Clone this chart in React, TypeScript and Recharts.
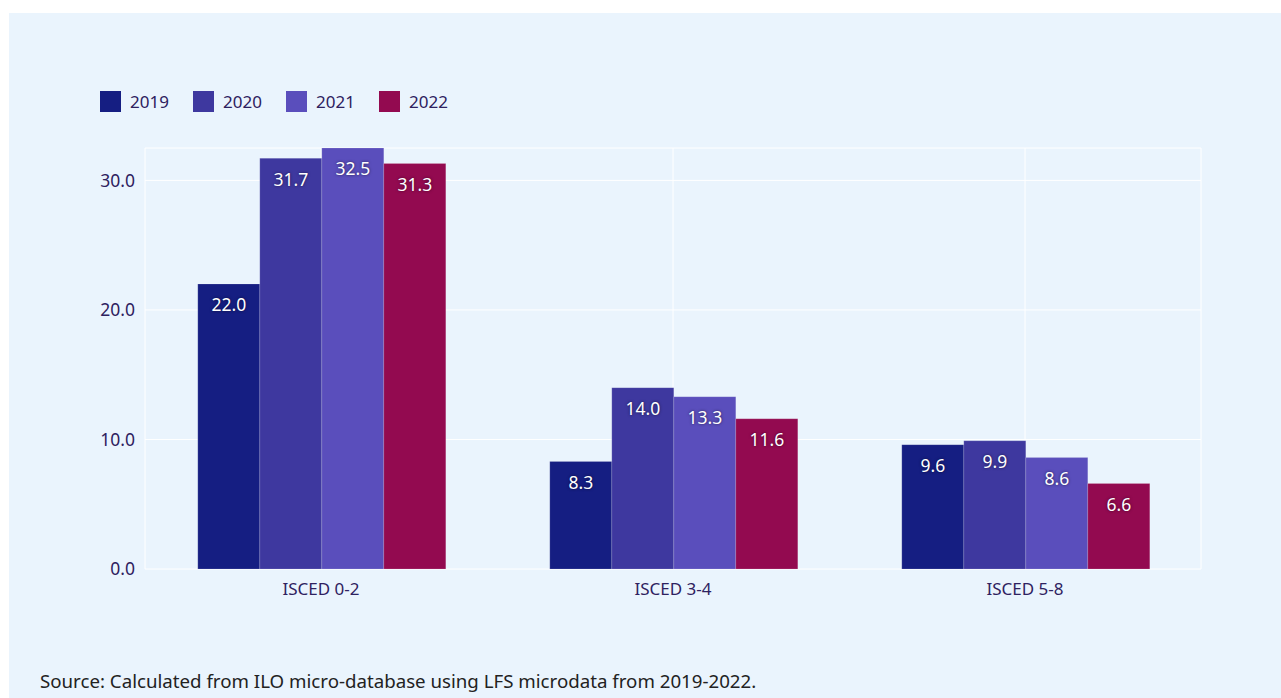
import React from "react";
import {
  BarChart, Bar, XAxis, YAxis, CartesianGrid, LabelList,
} from "recharts";

const categories = ["ISCED 0-2", "ISCED 3-4", "ISCED 5-8"];
const years = ["2019", "2020", "2021", "2022"];
const v2019 = [22.0, 8.3, 9.6];
const v2020 = [31.7, 14.0, 9.9];
const v2021 = [32.5, 13.3, 8.6];
const v2022 = [31.3, 11.6, 6.6];
const yTicks = [0, 10, 20, 30];

const colors = ["#151E82", "#3E389F", "#5A4EBC", "#930A50"];
const FONT = "'Noto Sans', 'Open Sans', sans-serif";
const TEXT = "#2E2160";

const series = [v2019, v2020, v2021, v2022];
const data = categories.map((c, i) => {
  const row: Record<string, string | number> = { name: c };
  years.forEach((y, k) => (row[y] = series[k][i]));
  return row;
});

const LegendBox = () => (
  <div
    style={{
      position: "absolute", left: 91, top: 77, display: "flex",
      fontFamily: FONT, fontSize: 17, color: TEXT,
    }}
  >
    {years.map((y, i) => (
      <div key={y} style={{ display: "flex", alignItems: "center", width: 93 }}>
        <span style={{ width: 21, height: 21, background: colors[i], display: "inline-block", marginRight: 9 }} />
        <span>{y}</span>
      </div>
    ))}
  </div>
);

const fmt = (v: unknown) => Number(v).toFixed(1);

export default function App() {
  return (
    <div
      style={{
        position: "absolute", left: 9, top: 13, width: 1272, height: 685,
        background: "#EAF4FD", fontFamily: FONT,
      }}
    >
      <LegendBox />
      <BarChart
        width={1272}
        height={600}
        data={data}
        margin={{ top: 135, right: 80, left: 77, bottom: 14 }}
        barCategoryGap="15%"
        barGap={0}
      >
        <CartesianGrid stroke="#FFFFFF" strokeWidth={1} />
        <XAxis
          dataKey="name"
          axisLine={false}
          tickLine={false}
          tickSize={0}
          tickMargin={14}
          height={30}
          tick={{ fontSize: 17, fill: TEXT, fontFamily: FONT }}
        />
        <YAxis
          domain={[0, 32.5]}
          ticks={yTicks}
          width={59}
          axisLine={false}
          tickLine={false}
          tickSize={0}
          tickMargin={10}
          tickFormatter={(v) => Number(v).toFixed(1)}
          tick={{ fontSize: 17.5, fill: TEXT, fontFamily: FONT }}
        />
        {years.map((y, i) => (
          <Bar
            key={y}
            dataKey={y}
            fill={colors[i]}
            stroke="rgba(255,255,255,0.25)"
            strokeWidth={0.6}
            isAnimationActive={false}
          >
            <LabelList
              dataKey={y}
              position="insideTop"
              offset={15}
              formatter={fmt}
              style={{
                fill: "#FFFFFF", fontSize: 17.5, fontFamily: FONT,
                textShadow: "0 0 3px rgba(0,0,0,0.6)",
              }}
            />
          </Bar>
        ))}
      </BarChart>
      <div
        style={{
          position: "absolute", left: 31, top: 655, fontSize: 18.7,
          color: "#222222", fontFamily: FONT, whiteSpace: "nowrap",
        }}
      >
        Source: Calculated from ILO micro-database using LFS microdata from 2019-2022.
      </div>
    </div>
  );
}
